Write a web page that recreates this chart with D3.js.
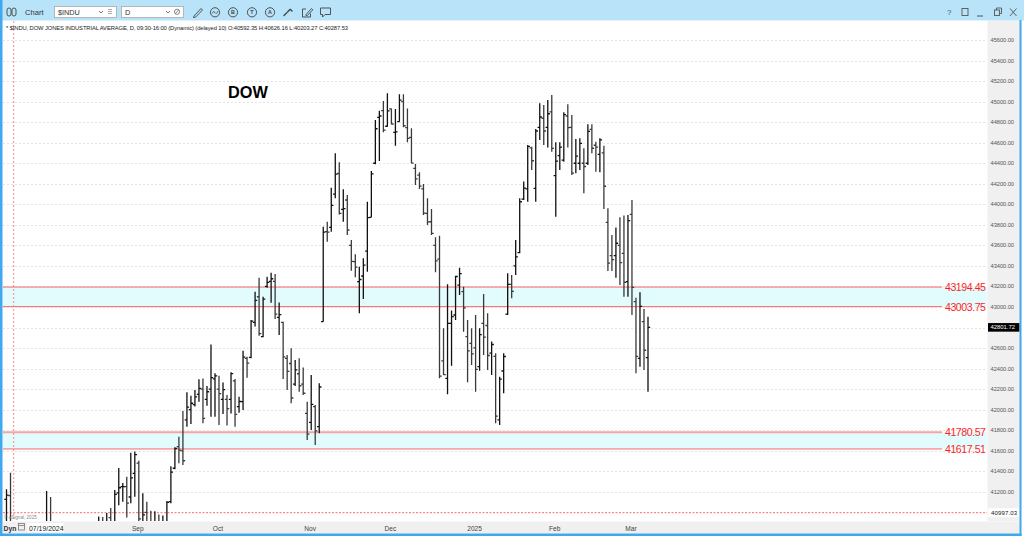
<!DOCTYPE html>
<html>
<head>
<meta charset="utf-8">
<script src="https://cdn.jsdelivr.net/npm/d3@7"></script>
<style>
body { margin: 0; background: #fff; overflow: hidden; }
svg { display: block; font-family: "Liberation Sans", Arial, sans-serif; }
</style>
</head>
<body>
<svg id="chart" width="1024" height="536"></svg>
<script>
// Daily bars, 07/17/2024 .. 03/07/2025 (index 0 .. 160)
var openVals = [41127, 41163, 40592.35, 40300, 40420, 40300, 39900, 40000, 40600, 40550,
    40800, 40850, 40200, 39000, 38800, 39100, 38900, 39400, 39500, 39450,
    39800, 40100, 40550, 40650, 40900, 40850, 40950, 40800, 41190, 41250,
    41250, 41150, 41380, 41480, 40900, 41000, 40800, 40500, 40850, 40700,
    40900, 41104, 41430, 41640, 41600, 41900, 42000, 42050, 42150, 42200,
    42100, 42200, 42300, 42200, 42100, 42100, 42100, 42280, 42030, 42078,
    42500, 42510, 42850, 43100, 42711, 43200, 43250, 43250, 42900, 42850,
    42500, 42450, 42250, 42350, 42250, 41964, 41877, 42030, 41835, 42857,
    43734, 43776, 44100, 44300, 43950, 44042, 43600, 43441, 43247, 43302,
    43545, 43873, 44400, 44847, 44912, 44760, 44930, 44700, 44805, 45000,
    44746, 44652, 44350, 44285, 44150, 43912, 43830, 43600, 43467, 42475,
    42306, 42841, 42922, 43214, 43150, 42711, 42646, 42603, 42420, 42840,
    42820, 42550, 42520, 41900, 42377, 42930, 43220, 43400, 43530, 44050,
    44150, 44550, 44156, 44750, 44838, 44750, 44900, 44279, 44474, 44430,
    44860, 44750, 44400, 44400, 44400, 44400, 44730, 44575, 44487, 44500,
    43825, 43500, 43500, 43600, 43523, 43247, 43902, 43052, 42500, 42858,
    42507];
var highVals = [41226, 41387, 40626.16, 40450, 40550, 40350, 40400, 40650, 40700, 40800,
    41209, 41150, 40300, 39200, 39300, 39500, 39500, 39550, 39600, 39800,
    40050, 40600, 40700, 40960, 40955, 40995, 41043, 41218, 41432, 41286,
    41348, 41582, 41592, 41504, 41186, 41104, 41017, 41010, 40980, 40970,
    41111, 41450, 41634, 41737, 41987, 42169, 42137, 42192, 42296, 42305,
    42231, 42636, 42354, 42331, 42266, 42143, 42364, 42299, 42127, 42575,
    42516, 42874, 43149, 43286, 43101, 43295, 43334, 43321, 43045, 42857,
    42533, 42598, 42484, 42500, 42412, 42078, 42338, 42046, 42257, 43782,
    43831, 44162, 44496, 44409, 44146, 44091, 43653, 43513, 43393, 43474,
    44026, 44324, 44821, 44912, 45006, 45081, 44934, 44928, 45071, 45071,
    44934, 44740, 44392, 44311, 44198, 44058, 43954, 43680, 43695, 42793,
    43221, 42965, 43305, 43383, 43198, 42874, 42793, 42922, 42793, 43127,
    42939, 42663, 42549, 42322, 42549, 43328, 43312, 43653, 44058, 44221,
    44578, 44561, 44733, 44983, 44967, 45016, 45064, 44604, 44604, 44896,
    44974, 44870, 44636, 44643, 44545, 44779, 44779, 44610, 44643, 44571,
    43961, 43701, 43773, 43873, 43890, 43896, 44042, 43091, 43143, 42981,
    42906];
var lowVals = [40900, 40640, 40203.27, 40150, 40300, 39820, 39700, 39990, 40450, 40400,
    40750, 40100, 39500, 38500, 38700, 38700, 38800, 39250, 39250, 39400,
    39650, 40050, 40400, 40550, 40700, 40700, 40650, 40750, 41070, 41104,
    40950, 41089, 41153, 40880, 40800, 40650, 40300, 40450, 40500, 40150,
    40800, 41090, 41420, 41478, 41462, 41835, 41861, 42030, 42078, 41867,
    42039, 41932, 41932, 41851, 41958, 41845, 41964, 41835, 41971, 41997,
    42312, 42500, 42809, 42720, 42705, 43188, 43042, 42883, 42727, 42299,
    42192, 42062, 42231, 42176, 42143, 41705, 41802, 41656, 41770, 42857,
    43636, 43734, 44058, 43900, 43831, 43701, 43354, 43289, 42939, 43078,
    43344, 43873, 44389, 44422, 44701, 44756, 44779, 44571, 44805, 44750,
    44604, 44399, 44188, 44150, 43896, 43799, 43701, 43338, 42306, 42338,
    42150, 42429, 42874, 43117, 42760, 42267, 42436, 42176, 42380, 42533,
    42387, 42338, 41868, 41851, 42160, 42922, 43085, 43312, 43523, 44042,
    44026, 44334, 44026, 44626, 44578, 44552, 44513, 43880, 44334, 44415,
    44552, 44285, 44302, 44334, 44107, 44383, 44496, 44318, 44311, 43954,
    43351, 43351, 43286, 43214, 43101, 43101, 42922, 42354, 42419, 42387,
    42176];
var closeVals = [41169, 40665, 40287.53, 40415, 40358, 39854, 39935, 40589, 40540, 40743,
    40843, 40348, 39737, 38703, 38998, 38763, 39446, 39498, 39357, 39766,
    40009, 40563, 40660, 40897, 40835, 40890, 40713, 41175, 41240, 41251,
    41091, 41336, 41563, 40937, 40975, 40756, 40345, 40830, 40737, 40861,
    41097, 41393, 41622, 41606, 41503, 42025, 42063, 42124, 42208, 41915,
    42175, 42313, 42330, 42156, 42196, 42011, 42352, 41954, 42080, 42512,
    42454, 42863, 43065, 42740, 43077, 43239, 43275, 42931, 42925, 42514,
    42374, 42114, 42387, 42233, 42160, 41763, 42052, 41794, 42221, 43729,
    43729, 43989, 44293, 43911, 43958, 43750, 43444, 43389, 43268, 43408,
    43870, 44296, 44736, 44860, 44722, 44910, 44782, 44705, 45014, 44765,
    44642, 44401, 44247, 44178, 43914, 43828, 43717, 43449, 42326, 42342,
    42840, 42906, 43297, 43325, 42992, 42573, 42544, 42392, 42732, 42706,
    42528, 42635, 41938, 42297, 42518, 43221, 43153, 43488, 44025, 44157,
    44565, 44424, 44714, 44850, 44714, 44882, 44545, 44421, 44556, 44873,
    44747, 44303, 44470, 44593, 44368, 44711, 44546, 44556, 44627, 44176,
    43428, 43461, 43621, 43433, 43239, 43841, 43191, 42520, 43006, 42579,
    42801.72];

var monthLabels = ['Sep', 'Oct', 'Nov', 'Dec', '2025', 'Feb', 'Mar'];
var monthStarts = [33, 53, 76, 96, 117, 137, 156];
var priceTicks = [41200, 41400, 41600, 41800, 42000, 42200, 42400, 42600, 42800, 43000,
    43200, 43400, 43600, 43800, 44000, 44200, 44400, 44600, 44800, 45000,
    45200, 45400, 45600];
var levelVals = [43194.45, 43003.75, 41780.57, 41617.51];
var cursorIndex = 2;
var cursorPrice = 40997.03;
var cursorDate = '07/19/2024';

var svg = d3.select('#chart');
var plot = { left: 3, right: 987, top: 21, bottom: 521 };

var x = d3.scaleLinear().domain([0, closeVals.length - 1]).range([6.5, 648]);
var y = d3.scaleLinear().domain([cursorPrice, 45600]).range([512.7, 40]);
var fmt = d3.format('.2f');

svg.append('rect').attr('width', 1024).attr('height', 536).attr('fill', '#fff');

// Clip for the price panel.
svg.append('defs').append('clipPath').attr('id', 'plotClip')
    .append('rect')
    .attr('x', plot.left).attr('y', plot.top)
    .attr('width', plot.right - plot.left).attr('height', plot.bottom - plot.top);

var panel = svg.append('g').attr('clip-path', 'url(#plotClip)');

// Support / resistance bands.
[[0, 1], [2, 3]].forEach(function(p) {
    var y0 = y(levelVals[p[0]]), y1 = y(levelVals[p[1]]);
    panel.append('rect')
        .attr('x', plot.left).attr('y', y0)
        .attr('width', plot.right - plot.left).attr('height', y1 - y0)
        .attr('fill', '#e2fbfd');
});

// Grid.
panel.selectAll('line.grid')
    .data(priceTicks)
    .enter().append('line')
    .attr('class', 'grid')
    .attr('x1', plot.left).attr('x2', plot.right)
    .attr('y1', function(d) { return Math.round(y(d)) + 0.5; })
    .attr('y2', function(d) { return Math.round(y(d)) + 0.5; })
    .attr('stroke', '#e4e4e4')
    .attr('stroke-dasharray', '2,2');

// Level lines.
levelVals.forEach(function(v, i) {
    panel.append('line')
        .attr('x1', plot.left).attr('x2', 942)
        .attr('y1', y(v)).attr('y2', y(v))
        .attr('stroke', i == 2 ? '#f6a3a3' : '#ff6464')
        .attr('stroke-width', i == 2 ? 1.8 : 1);
});

// Crosshair.
panel.append('line')
    .attr('x1', x(cursorIndex) - 0.8).attr('x2', x(cursorIndex) - 0.8)
    .attr('y1', plot.top).attr('y2', plot.bottom)
    .attr('stroke', '#ff8a8a')
    .attr('stroke-dasharray', '2,2');
panel.append('line')
    .attr('x1', plot.left).attr('x2', plot.right)
    .attr('y1', y(cursorPrice)).attr('y2', y(cursorPrice))
    .attr('stroke', '#ff6a6a')
    .attr('stroke-dasharray', '2,1.5');

// OHLC bars.
var idx = d3.range(closeVals.length);
panel.selectAll('path.bar')
    .data(idx)
    .enter().append('path')
    .attr('class', 'bar')
    .attr('d', function(i) {
        var cx = x(i);
        return 'M' + cx + ',' + y(highVals[i]) + 'V' + y(lowVals[i]) +
            'M' + (cx - 2.2) + ',' + y(openVals[i]) + 'H' + cx +
            'M' + cx + ',' + y(closeVals[i]) + 'H' + (cx + 2.2);
    })
    .attr('fill', 'none')
    .attr('stroke', function(i) { return closeVals[i] >= openVals[i] ? '#111' : '#3a3a3a'; })
    .attr('stroke-width', 1.3);

// Watermark.
panel.append('text')
    .attr('x', 4).attr('y', 519)
    .attr('font-size', 4.6)
    .attr('fill', '#8a8a8a')
    .text('\u00a9 eSignal, 2025');

// Level labels.
levelVals.forEach(function(v) {
    svg.append('text')
        .attr('x', 986).attr('y', y(v) + 4.2)
        .attr('text-anchor', 'end')
        .attr('font-size', 10.6)
        .attr('fill', '#ff1e1e')
        .attr('textLength', 41)
        .text(fmt(v));
});

// Title.
svg.append('text')
    .attr('x', 228).attr('y', 97.7)
    .attr('font-size', 16.3)
    .attr('font-weight', 'bold')
    .attr('fill', '#000')
    .text('DOW');

// Header line.
svg.append('text')
    .attr('x', 6).attr('y', 29.6)
    .attr('font-size', 5.8)
    .attr('fill', '#222')
    .attr('textLength', 342)
    .text('* $INDU, DOW JONES INDUSTRIAL AVERAGE, D, 09:30-16:00 (Dynamic) (delayed 10) O:' +
        fmt(openVals[cursorIndex]) + ' H:' + fmt(highVals[cursorIndex]) +
        ' L:' + fmt(lowVals[cursorIndex]) + ' C:' + fmt(closeVals[cursorIndex]));

// Right price axis.
svg.append('rect')
    .attr('x', 987.5).attr('y', plot.top)
    .attr('width', 32).attr('height', plot.bottom - plot.top)
    .attr('fill', '#f0f0f0');
svg.selectAll('text.ptick')
    .data(priceTicks)
    .enter().append('text')
    .attr('class', 'ptick')
    .attr('x', 990.5)
    .attr('y', function(d) { return y(d) + 2; })
    .attr('font-size', 5.7)
    .attr('fill', '#555')
    .attr('textLength', 23.5)
    .text(fmt);

// Cursor price tag.
svg.append('rect')
    .attr('x', 988).attr('y', y(cursorPrice) - 4.5)
    .attr('width', 31).attr('height', 9)
    .attr('fill', '#fff');
svg.append('text')
    .attr('x', 991).attr('y', y(cursorPrice) + 2.2)
    .attr('font-size', 6)
    .attr('fill', '#111')
    .attr('textLength', 26)
    .text(fmt(cursorPrice));

// Last price tag.
var lastY = y(closeVals[closeVals.length - 1]);
svg.append('rect')
    .attr('x', 988).attr('y', lastY - 4.3)
    .attr('width', 31.5).attr('height', 8.6)
    .attr('fill', '#000');
svg.append('text')
    .attr('x', 990.5).attr('y', lastY + 2.1)
    .attr('font-size', 5.9)
    .attr('fill', '#fff')
    .attr('textLength', 24.5)
    .text(fmt(closeVals[closeVals.length - 1]));

// Bottom date axis.
svg.append('rect')
    .attr('x', plot.left).attr('y', plot.bottom + 0.5)
    .attr('width', 1016.5).attr('height', 12)
    .attr('fill', '#f0f0f0');
svg.selectAll('text.mtick')
    .data(monthStarts)
    .enter().append('text')
    .attr('class', 'mtick')
    .attr('x', function(d) { return x(d) - 1; })
    .attr('y', 531.2)
    .attr('text-anchor', 'middle')
    .attr('font-size', 6.6)
    .attr('fill', '#444')
    .text(function(d, i) { return monthLabels[i]; });

svg.append('text')
    .attr('x', 3.5).attr('y', 530.5)
    .attr('font-size', 6.8)
    .attr('font-weight', 'bold')
    .attr('fill', '#333')
    .text('Dyn');
svg.append('rect')
    .attr('x', 18.5).attr('y', 523.5).attr('width', 6).attr('height', 6.5)
    .attr('fill', 'none').attr('stroke', '#777').attr('stroke-width', 0.8);
svg.append('line')
    .attr('x1', 18.5).attr('x2', 24.5).attr('y1', 525.5).attr('y2', 525.5)
    .attr('stroke', '#777').attr('stroke-width', 0.8);
svg.append('rect')
    .attr('x', 27.5).attr('y', 523).attr('width', 36).attr('height', 9)
    .attr('fill', '#fff');
svg.append('text')
    .attr('x', 29).attr('y', 530.6)
    .attr('font-size', 6.9)
    .attr('fill', '#222')
    .text(cursorDate);

// Toolbar.
var bar = svg.append('g');
bar.append('rect').attr('width', 1024).attr('height', 20.5).attr('fill', '#b9e3f8');

[7, 12].forEach(function(bx) {
    bar.append('rect')
        .attr('x', bx).attr('y', 8).attr('width', 4).attr('height', 8)
        .attr('rx', 2).attr('fill', 'none').attr('stroke', '#444').attr('stroke-width', 0.9);
});
bar.append('text')
    .attr('x', 25).attr('y', 14.8).attr('font-size', 7.6).attr('fill', '#333').text('Chart');

function inputBox(bx, w, label, extra) {
    bar.append('rect')
        .attr('x', bx + 0.5).attr('y', 6.5).attr('width', w).attr('height', 11)
        .attr('fill', '#fff').attr('stroke', '#a8a8a8').attr('stroke-width', 0.8);
    bar.append('text')
        .attr('x', bx + 4).attr('y', 14.8).attr('font-size', 7.3).attr('fill', '#333').text(label);
    bar.append('path')
        .attr('d', 'M' + (bx + w - 17) + ',11L' + (bx + w - 15) + ',13L' + (bx + w - 13) + ',11')
        .attr('fill', 'none').attr('stroke', '#555').attr('stroke-width', 0.8);
    extra(bx + w - 6);
}
inputBox(54, 62, '$INDU', function(cx) {
    [9.5, 11.5, 13.5].forEach(function(ly) {
        bar.append('line').attr('x1', cx - 2).attr('x2', cx + 2).attr('y1', ly).attr('y2', ly)
            .attr('stroke', '#888').attr('stroke-width', 0.7);
    });
});
inputBox(121, 62, 'D', function(cx) {
    bar.append('circle').attr('cx', cx).attr('cy', 11.8).attr('r', 2.6)
        .attr('fill', 'none').attr('stroke', '#555').attr('stroke-width', 0.7);
    bar.append('line').attr('x1', cx - 1.6).attr('x2', cx + 1.6).attr('y1', 13.6).attr('y2', 10)
        .attr('stroke', '#555').attr('stroke-width', 0.7);
});

var ink = '#444';
bar.append('path').attr('d', 'M194,16L201,8.5L202.5,10L195.5,17.2L193.5,17.5Z')
    .attr('fill', 'none').attr('stroke', ink).attr('stroke-width', 0.9);
bar.append('circle').attr('cx', 215).attr('cy', 12.3).attr('r', 4.6)
    .attr('fill', 'none').attr('stroke', ink).attr('stroke-width', 0.9);
bar.append('path').attr('d', 'M212,13.5Q213.5,10 215,12.5T218,11')
    .attr('fill', 'none').attr('stroke', ink).attr('stroke-width', 0.8);
[['B', 233], ['T', 252], ['A', 270]].forEach(function(c) {
    bar.append('circle').attr('cx', c[1]).attr('cy', 12.3).attr('r', 4.6)
        .attr('fill', 'none').attr('stroke', ink).attr('stroke-width', 0.9);
    bar.append('text').attr('x', c[1]).attr('y', 14.3).attr('text-anchor', 'middle')
        .attr('font-size', 5.4).attr('font-weight', 'bold').attr('fill', ink).text(c[0]);
});
bar.append('path').attr('d', 'M284,15.5l2.5,-2.5M287.5,12l2.5,-2.5M290.5,9.5l1.5,1.5')
    .attr('fill', 'none').attr('stroke', ink).attr('stroke-width', 1.4).attr('stroke-linecap', 'round');
bar.append('path').attr('d', 'M302.5,9H306M302.5,9V17H310.5V13.5M306,14.5L311.5,8.5L312.8,9.8L307.3,15.6H306Z')
    .attr('fill', 'none').attr('stroke', ink).attr('stroke-width', 0.9);
bar.append('path').attr('d', 'M320.5,8H330.5V14.5H325L322.5,17V14.5H320.5Z')
    .attr('fill', 'none').attr('stroke', ink).attr('stroke-width', 0.9);

// Window buttons.
bar.append('text').attr('x', 947).attr('y', 15).attr('font-size', 8).attr('fill', '#555').text('?');
bar.append('rect').attr('x', 962).attr('y', 8.5).attr('width', 6).attr('height', 7)
    .attr('fill', 'none').attr('stroke', '#555').attr('stroke-width', 0.9);
bar.append('line').attr('x1', 977).attr('x2', 983).attr('y1', 16).attr('y2', 16)
    .attr('stroke', '#555').attr('stroke-width', 1);
bar.append('rect').attr('x', 994.5).attr('y', 10).attr('width', 5).attr('height', 5.5)
    .attr('fill', 'none').attr('stroke', '#555').attr('stroke-width', 0.9);
bar.append('path').attr('d', 'M996.5,10V8H1001.5V13.5H999.5')
    .attr('fill', 'none').attr('stroke', '#555').attr('stroke-width', 0.9);
bar.append('path').attr('d', 'M1010,8.5L1016.5,16M1016.5,8.5L1010,16')
    .attr('fill', 'none').attr('stroke', '#555').attr('stroke-width', 0.9);

// Window frame.
svg.append('rect').attr('x', 0).attr('y', 0).attr('width', 2.5).attr('height', 536).attr('fill', '#40a8ec');
svg.append('rect').attr('x', 1019.5).attr('y', 20).attr('width', 2).attr('height', 516).attr('fill', '#40a8ec');
svg.append('rect').attr('x', 0).attr('y', 533.5).attr('width', 1021.5).attr('height', 2.5).attr('fill', '#40a8ec');
</script>
</body>
</html>
